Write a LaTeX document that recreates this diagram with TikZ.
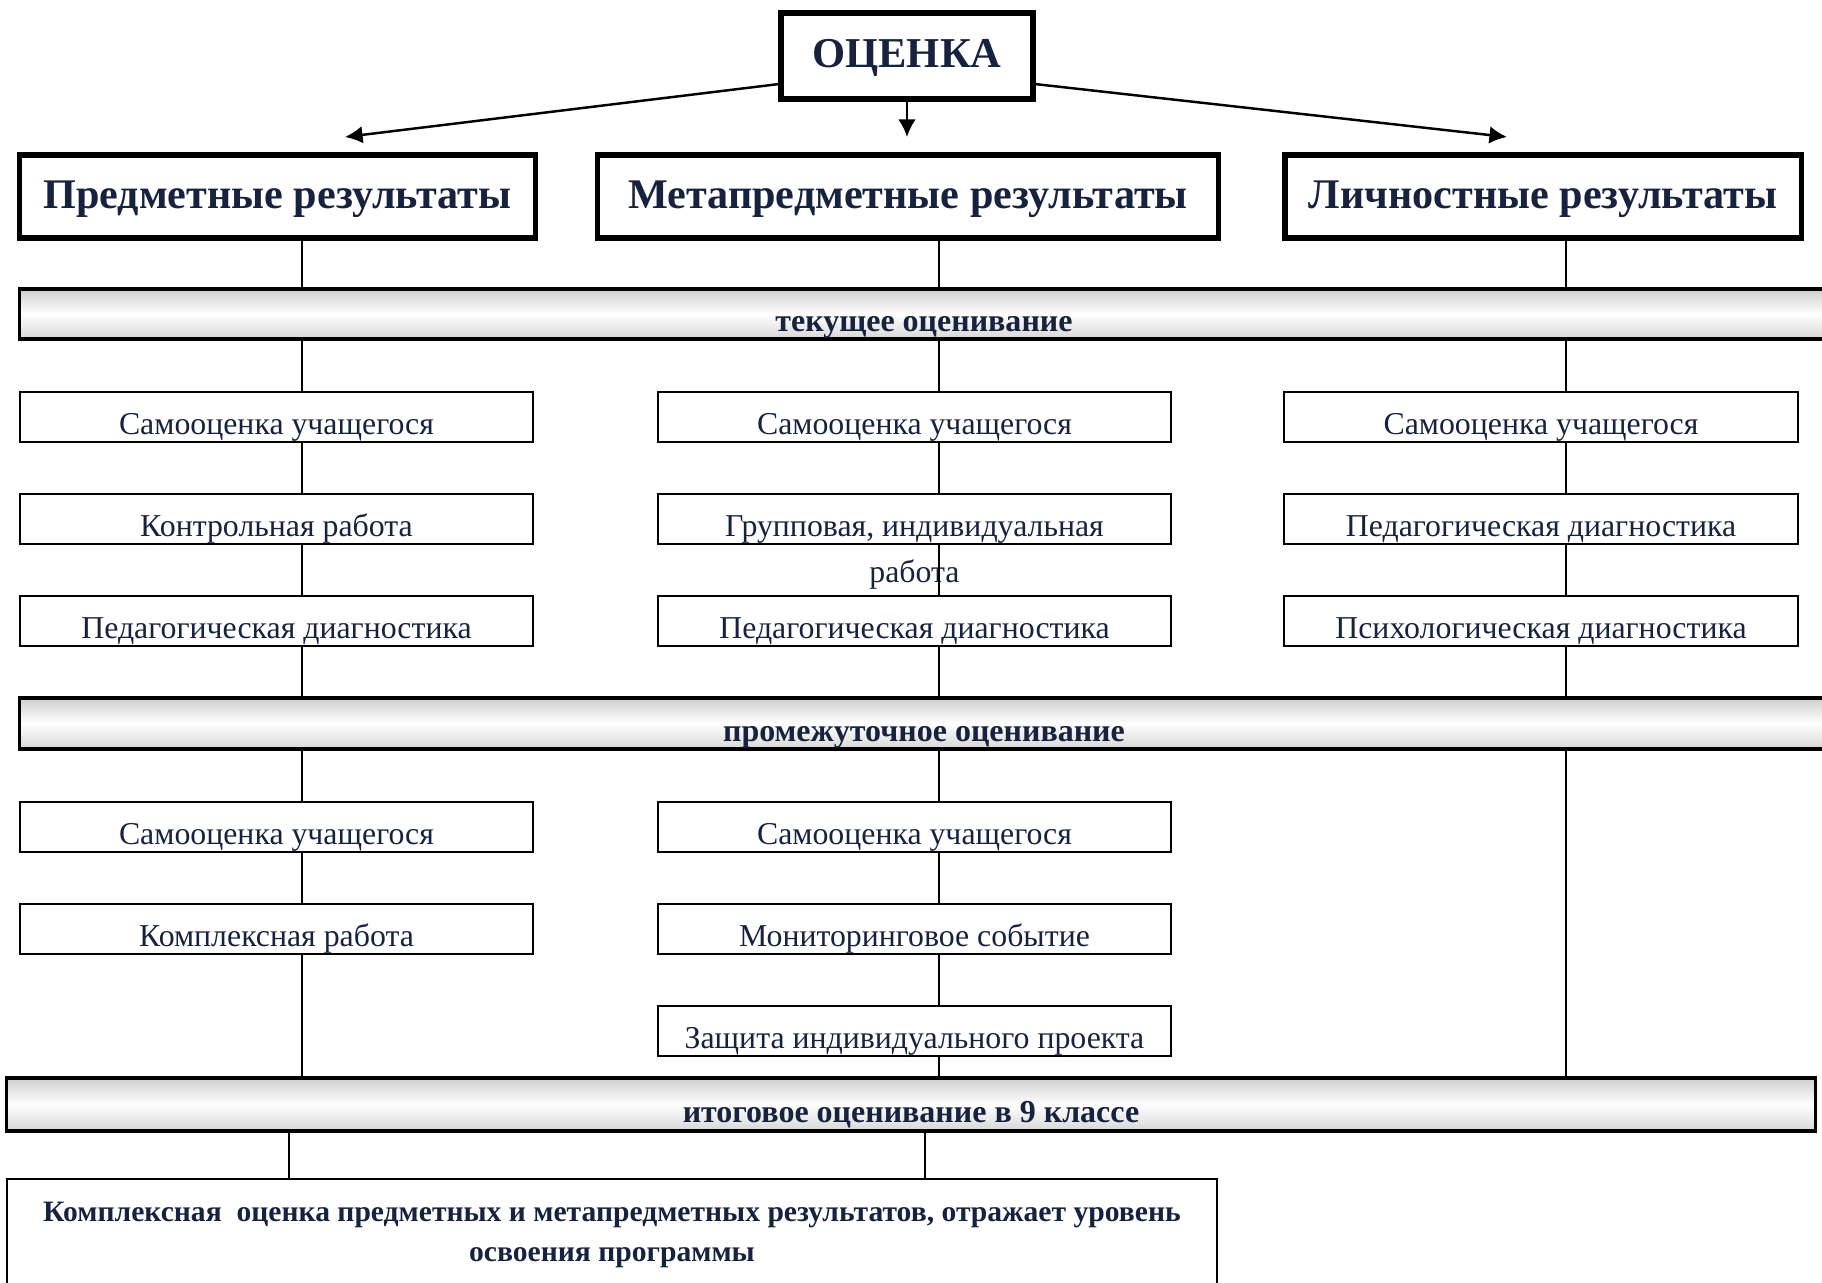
\documentclass[tikz,border=0pt]{standalone}
\usepackage{fontspec}
\setmainfont{Liberation Serif}
\usetikzlibrary{arrows.meta,calc}
\definecolor{navytext}{RGB}{23,35,62}
\tikzset{
  headbox/.style={draw,line width=1.5pt,inner sep=0pt,minimum height=0.83cm,
    font=\fontsize{12}{14}\selectfont\bfseries,text height=7pt,text depth=0.4pt,text=navytext},
  itembox/.style={draw,line width=0.6pt,inner sep=0pt,minimum width=5.13cm,minimum height=0.5cm,
    font=\fontsize{9.05}{11}\selectfont,text height=9.9pt,text depth=0.2pt,text=navytext},
  stagebar/.style={draw,line width=0.9pt,inner sep=0pt,minimum width=18.08cm,minimum height=0.5cm,
    top color=gray!38,bottom color=gray!32,middle color=white,
    font=\fontsize{9.1}{10}\selectfont\bfseries,text height=10.5pt,text depth=0.3pt,text=navytext},
  link/.style={line width=0.5pt},
  arr/.style={line width=0.7pt,-{Latex[length=5pt,width=5pt]}}
}
\begin{document}
\begin{tikzpicture}[x=0.01cm,y=-0.01cm]
    \useasboundingbox (0,0) rectangle (1822,1283);
    \clip (0,0) rectangle (1822,1283);

    % top level
    \node[headbox,minimum width=2.52cm,minimum height=0.86cm,
        font=\fontsize{12.1}{14}\selectfont\bfseries,text height=7.5pt,text depth=1.2pt] (ocenka) at (907,56) {ОЦЕНКА};
    \node[headbox,minimum width=5.15cm] (subj) at (277.5,196.5) {Предметные результаты};
    \node[headbox,minimum width=6.2cm] (meta) at (908,196.5) {Метапредметные результаты};
    \node[headbox,minimum width=5.16cm] (pers) at (1543,196.5) {Личностные результаты};

    \coordinate (tipL) at (345,137);
    \coordinate (tipM) at (910,137);
    \coordinate (tipR) at (1507,137);
    \draw[arr] ([yshift=-8pt]ocenka.west) -- (tipL);
    \draw[arr] (ocenka.south) -- (ocenka.south |- tipM);
    \draw[arr] ([yshift=-8pt]ocenka.east) -- (tipR);

    % stages
    \node[stagebar] (cur) at (924,314) {текущее оценивание};
    \node[stagebar,minimum height=0.51cm] (mid) at (924,723.5) {промежуточное оценивание};
    \node[stagebar,minimum height=0.53cm] (fin) at (911,1104.5) {итоговое оценивание в 9 классе};

    % current assessment
    \node[itembox] (s1) at (276.5,417) {Самооценка учащегося};
    \node[itembox] (k1) at (276.5,519) {Контрольная работа};
    \node[itembox] (p1) at (276.5,621) {Педагогическая диагностика};

    \node[itembox] (s2) at (914.5,417) {Самооценка учащегося};
    \node[itembox] (g2) at (914.5,519) {Групповая, индивидуальная};
    \node[font=\fontsize{9.05}{11}\selectfont,text=navytext,inner sep=0pt,anchor=base] (g2b)
        at ($(g2.base)+(0,46)$) {работа};
    \node[itembox] (p2) at (914.5,621) {Педагогическая диагностика};

    \node[itembox] (s3) at (1541,417) {Самооценка учащегося};
    \node[itembox] (p3) at (1541,519) {Педагогическая диагностика};
    \node[itembox] (ps3) at (1541,621) {Психологическая диагностика};

    % intermediate assessment
    \node[itembox] (s4) at (276.5,827) {Самооценка учащегося};
    \node[itembox] (kp4) at (276.5,929) {Комплексная работа};

    \node[itembox] (s5) at (914.5,827) {Самооценка учащегося};
    \node[itembox] (m5) at (914.5,929) {Мониторинговое событие};
    \node[itembox] (z5) at (914.5,1031) {Защита индивидуального проекта};

    % final
    \node[draw,line width=0.6pt,inner sep=0pt,minimum width=12.1cm,minimum height=1.12cm,align=center,
        font=\fontsize{8.42}{11.4}\selectfont\bfseries,text=navytext] (res) at (612,1235)
        {Комплексная\ \ оценка предметных и метапредметных результатов, отражает уровень\\освоения программы};

    % connectors
    \coordinate (c1) at (302,0);
    \coordinate (c2) at (939,0);
    \coordinate (c3) at (1566,0);
    \coordinate (d1) at (289,0);
    \coordinate (d2) at (925,0);
    \foreach \a/\b in {subj/cur,cur/s1,s1/k1,k1/p1,p1/mid,mid/s4,s4/kp4,kp4/fin}
        \draw[link] (\a.south -| c1) -- (\b.north -| c1);
    \foreach \a/\b in {meta/cur,cur/s2,s2/g2,g2/p2,p2/mid,mid/s5,s5/m5,m5/z5,z5/fin}
        \draw[link] (\a.south -| c2) -- (\b.north -| c2);
    \foreach \a/\b in {pers/cur,cur/s3,s3/p3,p3/ps3,ps3/mid,mid/fin}
        \draw[link] (\a.south -| c3) -- (\b.north -| c3);
    \draw[link] (fin.south -| d1) -- (res.north -| d1);
    \draw[link] (fin.south -| d2) -- (res.north -| d2);
\end{tikzpicture}
\end{document}
